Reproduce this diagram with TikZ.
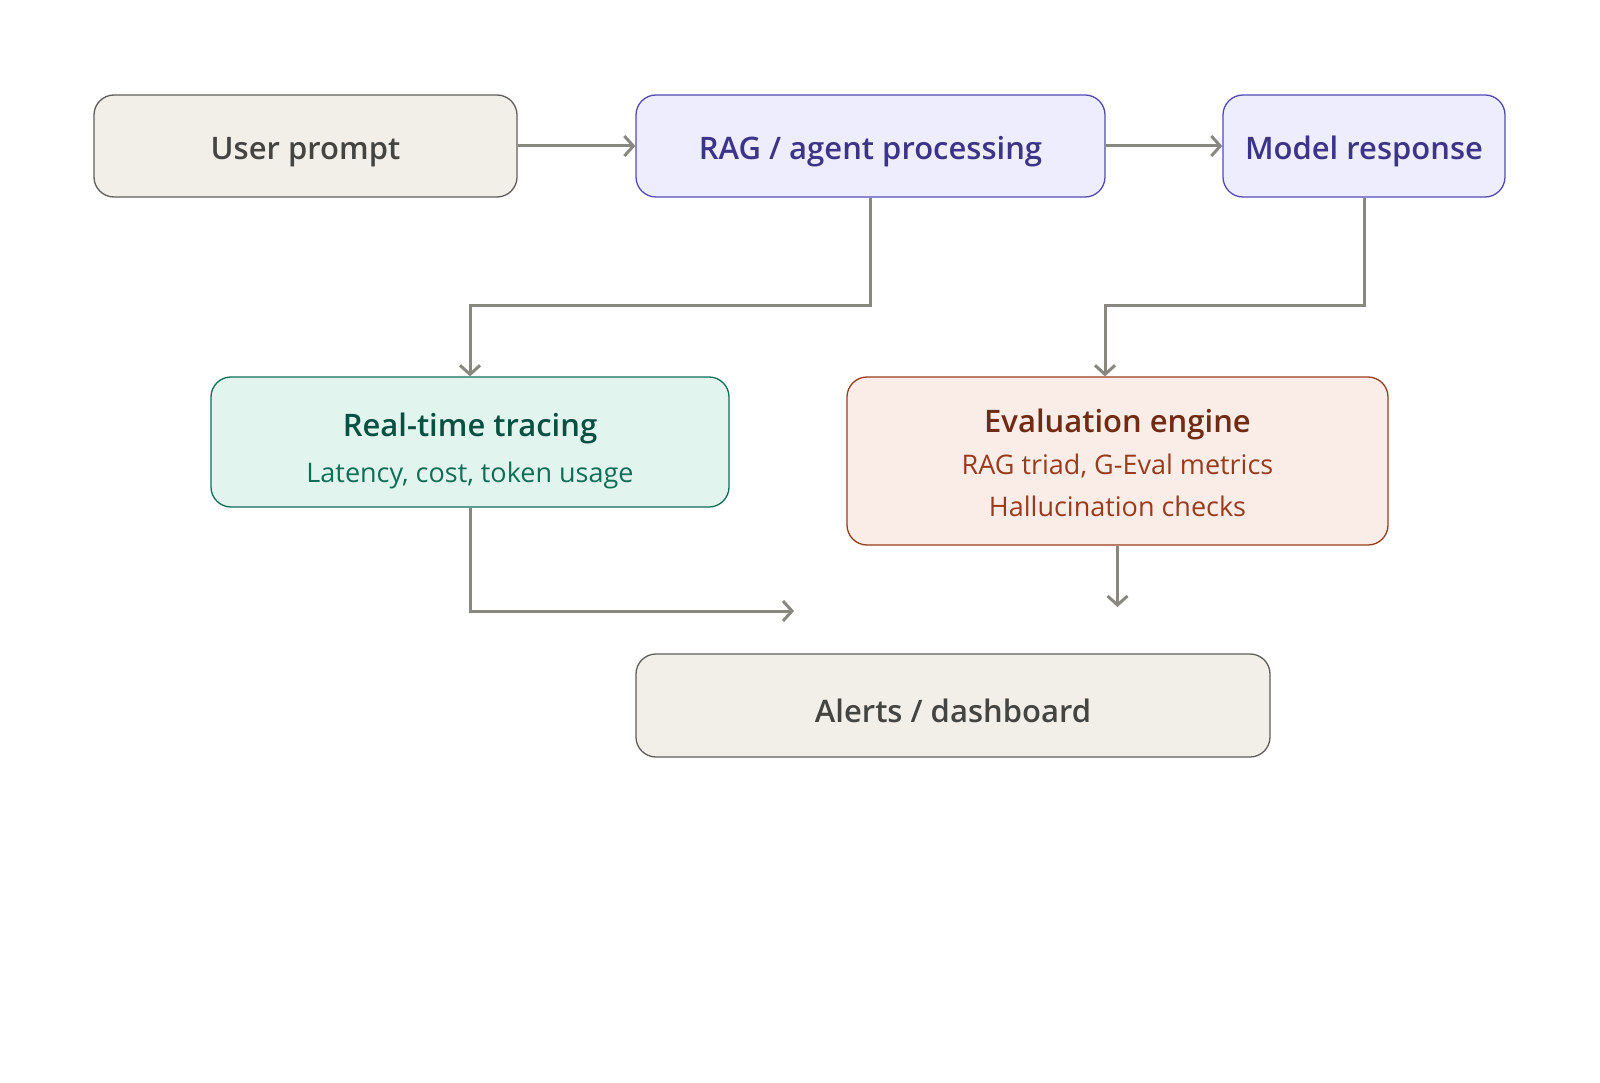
\documentclass[tikz,border=0pt]{standalone}
\usepackage{fontspec}
\setmainfont{Open Sans}
\IfFontExistsTF{Open Sans Semibold}
  {\newfontfamily\sbfont{Open Sans Semibold}}
  {\IfFontExistsTF{Open Sans SemiBold}
     {\newfontfamily\sbfont{Open Sans SemiBold}}
     {\newcommand{\sbfont}{\bfseries}}}
\usetikzlibrary{arrows.meta}

\definecolor{grayfill}{HTML}{F1EFE8}
\definecolor{grayline}{HTML}{5F5E5A}
\definecolor{graytext}{HTML}{444441}
\definecolor{purpfill}{HTML}{EEEDFE}
\definecolor{purpline}{HTML}{534AB7}
\definecolor{purptext}{HTML}{3C3489}
\definecolor{greenfill}{HTML}{E1F5EE}
\definecolor{greenline}{HTML}{0F6E56}
\definecolor{greentext}{HTML}{085041}
\definecolor{coralfill}{HTML}{FAECE7}
\definecolor{coralline}{HTML}{993C1D}
\definecolor{coraltext}{HTML}{712B13}
\definecolor{arrowgray}{HTML}{888780}

\newcommand{\subline}[2]{{\rmfamily\mdseries\fontsize{27}{32}\selectfont\color{#1}#2}}
\newcommand{\lift}[1]{\rule{0pt}{#1}}

\begin{document}
\begin{tikzpicture}[x=1pt,y=-1pt,
    box/.style={draw,rounded corners=20pt,line width=1.3pt,inner sep=0pt,
        align=center,font=\fontsize{31}{37}\selectfont\sbfont},
    graybox/.style={box,fill=grayfill,draw=grayline,text=graytext},
    purpbox/.style={box,fill=purpfill,draw=purpline,text=purptext},
    greenbox/.style={box,fill=greenfill,draw=greenline,text=greentext},
    coralbox/.style={box,fill=coralfill,draw=coralline,text=coraltext},
    arr/.style={draw=arrowgray,line width=3pt,
        -{Straight Barb[length=9pt,width=20pt,line width=3pt]}}]
    \useasboundingbox (0,0) rectangle (1600,1083);

    % top row
    \node[graybox,minimum width=423pt,minimum height=102pt] (up) at (305.5,146) {\lift{35pt}User prompt};
    \node[purpbox,minimum width=469pt,minimum height=102pt] (rag) at (870.5,146) {\lift{35pt}RAG / agent processing};
    \node[purpbox,minimum width=282pt,minimum height=102pt] (model) at (1364,146) {\lift{35pt}Model response};

    % middle row
    \node[greenbox,minimum width=518pt,minimum height=130pt] (trace) at (470,442)
        {\lift{42pt}Real-time tracing\\[9pt]
         \subline{greenline}{Latency, cost, token usage}};
    \node[coralbox,minimum width=541pt,minimum height=168pt] (eval) at (1117.5,461)
        {\lift{28pt}Evaluation engine\\[5pt]
         \subline{coralline}{RAG triad, G-Eval metrics}\\[5pt]
         \subline{coralline}{Hallucination checks}};

    % bottom
    \node[graybox,minimum width=634pt,minimum height=103pt] (alert) at (953,705.5) {\lift{35pt}Alerts / dashboard};

    \coordinate (k1) at (470,305);
    \coordinate (k2) at (1105,305);
    \coordinate (tend) at (794,611);
    \coordinate (eend) at (1117.5,607);

    \draw[arr] (up) -- (rag);
    \draw[arr] (rag) -- (model);
    \draw[arr] (rag.south) |- (k1) -- (trace.north);
    \draw[arr] (model.south) |- (k2) -- (k2 |- eval.north);
    \draw[arr] (trace.south) |- (tend);
    \draw[arr] (eval.south) -- (eend);
\end{tikzpicture}
\end{document}
